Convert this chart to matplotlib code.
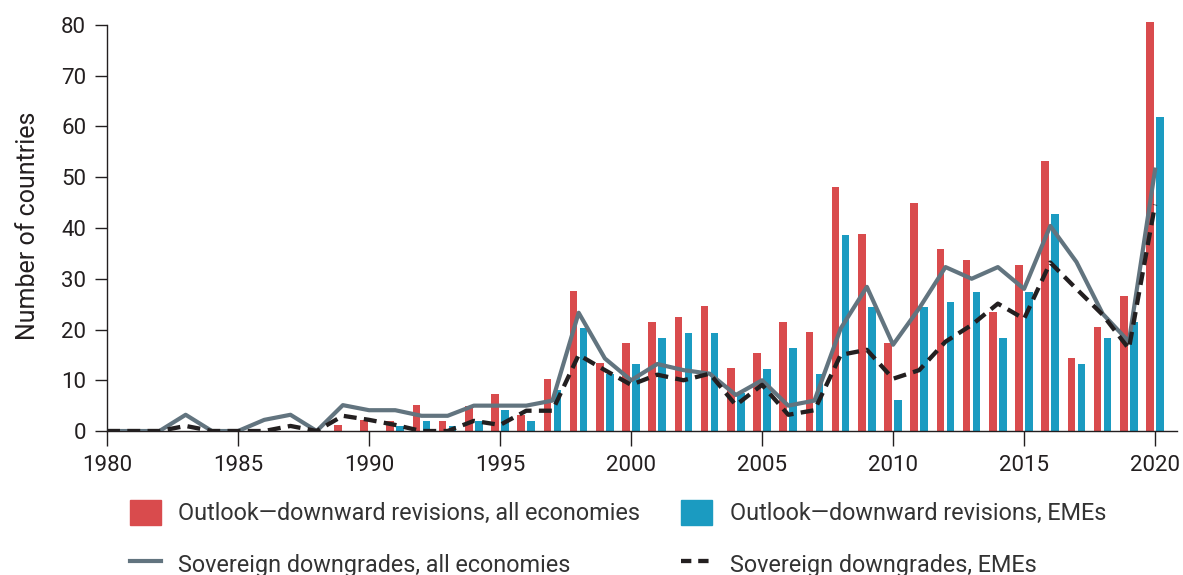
import numpy as np
import matplotlib
matplotlib.use("Agg")
import matplotlib.pyplot as plt
from matplotlib.patches import Patch
from matplotlib.lines import Line2D

plt.rcParams['font.family'] = ['Roboto', 'DejaVu Sans']

years = list(range(1980, 2021))

# outlook downward revisions (bars)
outlook_all = [0, 0, 0, 0, 0, 0, 0, 0, 0, 1.2, 2.2, 2, 5.1, 2, 5, 7.3, 3.2, 10.2,
               27.6, 13.4, 17.3, 21.5, 22.5, 24.6, 12.4, 15.4, 21.5, 19.5,
               48.1, 38.8, 17.3, 44.9, 35.9, 33.7, 23.4, 32.7, 53.2, 14.4,
               20.5, 26.6, 80.6]
outlook_eme = [0, 0, 0, 0, 0, 0, 0, 0, 0, 0, 0, 1, 2, 1, 2, 4.1, 2, 8,
               20.3, 11.2, 13.2, 18.3, 19.3, 19.3, 7.5, 12.2, 16.4, 11.2,
               38.6, 24.4, 6.1, 24.4, 25.4, 27.4, 18.3, 27.4, 42.8, 13.2,
               18.3, 21.5, 61.9]

# sovereign downgrades (lines)
downgrades_all = [0, 0, 0, 3.2, 0, 0, 2.2, 3.2, 0, 5.1, 4.1, 4.1, 3, 3, 5, 5, 5, 6,
                  23.3, 14.3, 10, 13.2, 12, 11.3, 7.1, 10, 5, 6,
                  20.2, 28.4, 17, 24.2, 32.3, 30, 32.3, 28, 40.4, 33.3,
                  23.1, 17.6, 51.5]
downgrades_eme = [0, 0, 0, 1, 0, 0, 0, 1, 0, 3, 2.2, 1.2, 0, 0, 2, 1.2, 4, 4,
                  15, 12, 9.1, 11.1, 10, 11.3, 5.1, 9.1, 3.2, 4.1,
                  15, 16, 10.3, 12, 17.6, 20.9, 25.1, 22.1, 33.2, 28,
                  22.9, 16.2, 44.6]

red = '#d94b4d'
blue = '#1b9bc1'
grey = '#62747f'
dark = '#231f20'

x = np.array(years)

fig = plt.figure(figsize=(11.83, 5.75), dpi=100)
ax = fig.add_axes([0.0905, 0.2504, 0.9045, 0.715])

ax.bar(x - 0.19, outlook_all, width=0.29, color=red, zorder=2)
ax.bar(x + 0.19, outlook_eme, width=0.29, color=blue, zorder=2)
ax.plot(x, downgrades_all, color=grey, lw=3.0, zorder=3)
ax.plot(x, downgrades_eme, color=dark, lw=3.1, ls=(0, (3.0, 1.7)), zorder=4)

ax.set_xlim(1980, 2020.84)
ax.set_ylim(0, 81)
ax.spines['left'].set_bounds(0, 80)
ax.spines['top'].set_visible(False)
ax.spines['right'].set_visible(False)
for s in ['left', 'bottom']:
    ax.spines[s].set_color('#231f20')
    ax.spines[s].set_linewidth(1.0)

ax.set_xticks(range(1980, 2021, 5))
ax.set_yticks(range(0, 81, 10))
ax.tick_params(axis='x', length=10.5, width=1.0, pad=7, labelsize=16, colors='#231f20')
ax.tick_params(axis='y', length=9, width=1.0, pad=6, labelsize=16, colors='#231f20')
ax.set_ylabel('Number of countries', fontsize=18, color='#231f20', labelpad=15)

handles = [Patch(color=red), Line2D([], [], color=grey, lw=3.0),
           Patch(color=blue), Line2D([], [], color=dark, lw=3.1, ls=(0, (2.4, 1.6)))]
labels = ['Outlook\u2014downward revisions, all economies',
          'Sovereign downgrades, all economies',
          'Outlook\u2014downward revisions, EMEs',
          'Sovereign downgrades, EMEs']
fig.legend(handles, labels, ncol=2, loc='upper left', bbox_to_anchor=(0.11, 0.131),
           frameon=False, fontsize=16.8, handlelength=1.32, handleheight=1.32,
           handletextpad=0.75, columnspacing=1.75, labelspacing=1.1,
           borderaxespad=0, borderpad=0, labelcolor='#333333')

fig.savefig('out.png', dpi=100)
